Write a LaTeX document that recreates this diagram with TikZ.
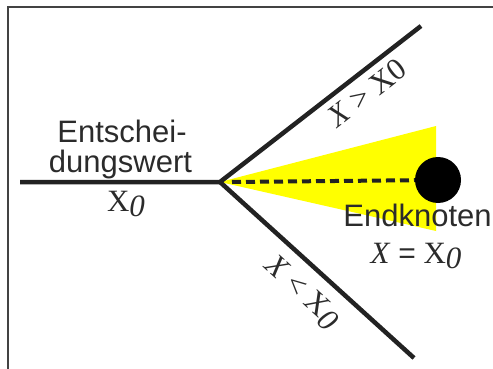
\documentclass[tikz,border=0pt]{standalone}
\usepackage{fontspec}
\setmainfont{Liberation Sans}
\newfontfamily\timesfont{Liberation Serif}
\usetikzlibrary{positioning}
\definecolor{linegray}{HTML}{222222}
\definecolor{textgray}{HTML}{2B2B2B}
\definecolor{fanyellow}{HTML}{FFFF00}
\newcommand{\Xsub}{X\raisebox{-5pt}{\itshape 0}}

\begin{document}
\begin{tikzpicture}[x=1pt, y=-1pt,
    branch/.style={draw=linegray, line width=4.5pt},
    sanslabel/.style={text=textgray, inner sep=0pt, font=\fontsize{31}{31}\selectfont},
    seriflabel/.style={text=textgray, inner sep=0pt, font=\timesfont\fontsize{31}{31}\selectfont}]
    \useasboundingbox (0,0) rectangle (493,369);
    % Rahmen
    \draw[linegray!85, line width=1.5pt] (8,369) -- (8,7) -- (493,7);

    % Knotenpunkte
    \coordinate (L) at (20,182);
    \coordinate (J) at (220,182);
    \coordinate (U) at (421,26);
    \coordinate (D) at (414,358);
    \coordinate (dstart) at (232,182);

    % gelber Bereich
    \fill[fanyellow] (J) -- (436,126) -- (436,231) -- cycle;

    % Zweige
    \draw[branch] (L) -- (J) -- (U);
    \draw[branch] (J) -- (D);

    % Endknoten
    \node[circle, fill=black, minimum size=46pt, inner sep=0pt] (endk) at (438,180) {};
    \draw[linegray, line width=4pt, dash pattern=on 9pt off 5pt] (dstart) -- (endk);

    % Beschriftungen
    \node[sanslabel, anchor=base] (ent1) at (122,142.3) {Entschei-};
    \node[sanslabel, anchor=base] (ent2) at (120.5,172.7) {dungswert};
    \node[seriflabel, anchor=base] (xnull) at (126,211.7) {\Xsub};
    \node[sanslabel, anchor=base] (endtext) at (417.5,226.7) {Endknoten};
    \node[seriflabel, anchor=base] (eqtext) at (416,263) {\textit{X} {\rmfamily\normalfont\fontsize{30}{30}\selectfont =} \Xsub};
    \node[seriflabel, rotate=37.8] (gtlabel) at (367,93) {\textit{X} > X0};
    \node[seriflabel, rotate=-42.4] (ltlabel) at (302,293) {\textit{X} < \Xsub};
\end{tikzpicture}
\end{document}
